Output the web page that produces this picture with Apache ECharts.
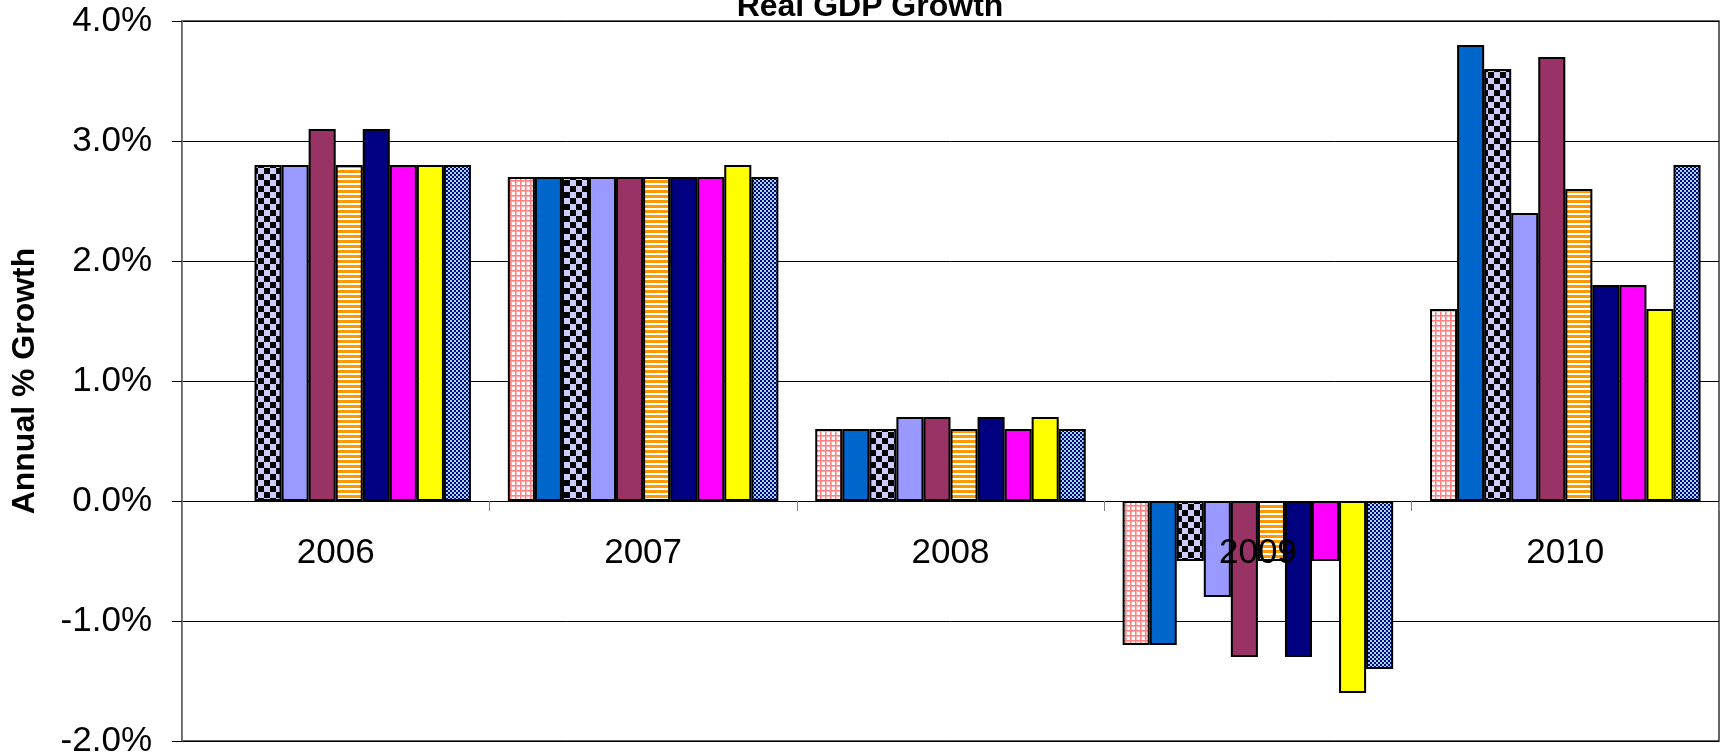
<!DOCTYPE html>
<html>
<head>
<meta charset="utf-8">
<script src="https://cdn.jsdelivr.net/npm/echarts@6/dist/echarts.min.js"></script>
<style>
html,body{margin:0;padding:0;background:#fff;}
#chart{width:1723px;height:755px;}
</style>
</head>
<body>
<div id="chart"></div>
<script>
// ---- data ----
const categories = ['2006', '2007', '2008', '2009', '2010'];
const yTicks = [-2, -1, 0, 1, 2, 3, 4];
const titleText = 'Real GDP Growth';
const yAxisTitle = 'Annual % Growth';
const seriesPinkGrid   = [null, 2.7, 0.6, -1.2, 1.6];
const seriesBlue       = [null, 2.7, 0.6, -1.2, 3.8];
const seriesChecker    = [2.8, 2.7, 0.6, -0.5, 3.6];
const seriesLavender   = [2.8, 2.7, 0.7, -0.8, 2.4];
const seriesMaroon     = [3.1, 2.7, 0.7, -1.3, 3.7];
const seriesOrange     = [2.8, 2.7, 0.6, -0.5, 2.6];
const seriesNavy       = [3.1, 2.7, 0.7, -1.3, 1.8];
const seriesMagenta    = [2.8, 2.7, 0.6, -0.5, 1.8];
const seriesYellow     = [2.8, 2.8, 0.7, -1.6, 1.6];
const seriesBlueCheck  = [2.8, 2.7, 0.6, -1.4, 2.8];

// ---- patterns ----
function makeCanvas(w, h, draw) {
  const c = document.createElement('canvas');
  c.width = w; c.height = h;
  draw(c.getContext('2d'));
  return c;
}
const pinkGrid = makeCanvas(5, 5, g => {
  g.fillStyle = '#ffffff'; g.fillRect(0, 0, 5, 5);
  g.fillStyle = '#ffb0b0'; g.fillRect(0, 0, 5, 2); g.fillRect(0, 0, 2, 5);
  g.fillStyle = '#ff8080'; g.fillRect(0, 0, 5, 1); g.fillRect(0, 0, 1, 5);
});
const checker = makeCanvas(12, 12, g => {
  g.fillStyle = '#ccccff'; g.fillRect(0, 0, 12, 12);
  g.fillStyle = '#000000'; g.fillRect(0, 0, 6, 6); g.fillRect(6, 6, 6, 6);
});
const orangeStripes = makeCanvas(5, 5, g => {
  g.fillStyle = '#ffffff'; g.fillRect(0, 0, 5, 5);
  g.fillStyle = '#ff9900'; g.fillRect(0, 0, 5, 3);
});
const blueCheck = makeCanvas(4, 4, g => {
  g.fillStyle = '#99ddff'; g.fillRect(0, 0, 4, 4);
  g.fillStyle = '#000080'; g.fillRect(0, 0, 2, 2); g.fillRect(2, 2, 2, 2);
});
const pat = c => ({ image: c, repeat: 'repeat' });

const seriesDefs = [
  { name: 'Series 1', data: seriesPinkGrid, color: pat(pinkGrid) },
  { name: 'Series 2', data: seriesBlue, color: '#0066cc' },
  { name: 'Series 3', data: seriesChecker, color: pat(checker) },
  { name: 'Series 4', data: seriesLavender, color: '#9999ff' },
  { name: 'Series 5', data: seriesMaroon, color: '#993366' },
  { name: 'Series 6', data: seriesOrange, color: pat(orangeStripes) },
  { name: 'Series 7', data: seriesNavy, color: '#000080' },
  { name: 'Series 8', data: seriesMagenta, color: '#ff00ff' },
  { name: 'Series 9', data: seriesYellow, color: '#ffff00' },
  { name: 'Series 10', data: seriesBlueCheck, color: pat(blueCheck) }
];

const FONT = '"Liberation Sans", Arial, sans-serif';
const chart = echarts.init(document.getElementById('chart'), null, { renderer: 'canvas' });
chart.setOption({
  animation: false,
  backgroundColor: '#ffffff',
  textStyle: { fontFamily: FONT, color: '#000' },
  grid: { left: 182, right: 4, top: 21, bottom: 14, show: true, borderColor: '#333', borderWidth: 1.5,
    containLabel: false, outerBoundsMode: 'none' },
  graphic: [{
    type: 'text', x: 870, y: 7,
    style: { text: titleText, x: 0, y: 0, align: 'center', verticalAlign: 'middle',
      fontFamily: FONT, fontSize: 32, fontWeight: 'bold', fill: '#000' }
  }],
  xAxis: {
    type: 'category', data: categories, z: 10, position: 'bottom', offset: -240,
    axisLine: { onZero: false, lineStyle: { color: '#000', width: 1 } },
    axisTick: { show: true, length: 10, lineStyle: { color: '#808080' } },
    axisLabel: { fontSize: 35, margin: 35, color: '#000', fontFamily: FONT },
    splitLine: { show: false }
  },
  yAxis: {
    type: 'value', min: yTicks[0], max: yTicks[yTicks.length - 1], interval: 1,
    name: yAxisTitle, nameLocation: 'middle', nameGap: 141, nameRotate: 90,
    nameTextStyle: { fontSize: 32, fontWeight: 'bold', color: '#000', fontFamily: FONT },
    axisLine: { show: true, lineStyle: { color: '#808080', width: 1 } },
    axisTick: { show: true, length: 10, lineStyle: { color: '#000' } },
    axisLabel: { fontSize: 35, margin: 30, color: '#000', fontFamily: FONT,
      formatter: v => v.toFixed(1) + '%' },
    splitLine: { show: true, lineStyle: { color: '#000', width: 1 } }
  },
  series: seriesDefs.map(s => ({
    type: 'bar', name: s.name, data: s.data,
    barGap: '0%', barCategoryGap: '12%',
    itemStyle: { color: s.color, borderColor: '#000', borderWidth: 2 }
  }))
});
</script>
</body>
</html>
